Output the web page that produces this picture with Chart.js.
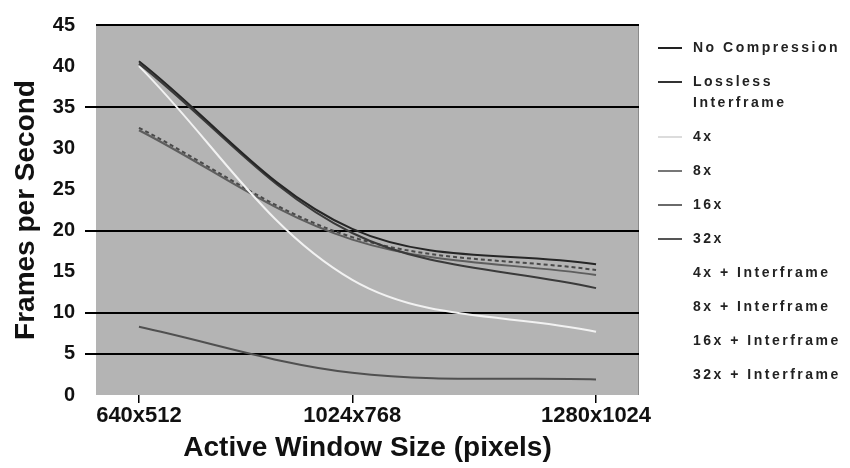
<!DOCTYPE html>
<html>
<head>
<meta charset="utf-8">
<script src="https://cdn.jsdelivr.net/npm/chart.js@4.4.1/dist/chart.umd.min.js"></script>
<style>
  body { margin: 0; background: #fff; }
  #wrap { position: relative; width: 850px; height: 468px; }
  #legend {
    position: absolute; left: 658px; top: 37px; width: 192px;
    font: bold 14px "Liberation Sans", Arial, sans-serif; color: #222;
    letter-spacing: 2.5px;
  }
  .item { display: flex; align-items: flex-start; line-height: 21px; margin-bottom: 13px; }
  .swatch { width: 24px; height: 2px; margin-top: 10px; margin-right: 11px; flex: none; }
  .label { width: 157px; }
</style>
</head>
<body>
<div id="wrap">
  <canvas id="chart" width="850" height="468"></canvas>
  <div id="legend"></div>
</div>
<script>
const categories = ["640x512", "1024x768", "1280x1024"];
const yTicks = [0, 5, 10, 15, 20, 25, 30, 35, 40, 45];
const ruledTicks = [35, 20, 10, 5];

const seriesNames = [
  "No Compression",
  "Lossless Interframe",
  "4x",
  "8x",
  "16x",
  "32x",
  "4x + Interframe",
  "8x + Interframe",
  "16x + Interframe",
  "32x + Interframe",
];
const noCompression = [40.6, 20.2, 15.9];
const losslessInterframe = [40.3, 19.7, 13.0];
const x4 = [40.0, 14.0, 7.7];
const x8 = [32.5, 19.2, 15.2];
const x16 = [32.2, 18.9, 14.6];
const x32 = [8.3, 2.7, 1.9];
const x4Interframe = [];
const x8Interframe = [];
const x16Interframe = [];
const x32Interframe = [];

// x axis is the window area in pixels
const xValues = categories.map((c) => {
  const [w, h] = c.split("x").map(Number);
  return w * h;
});
const span = xValues[xValues.length - 1] - xValues[0];

const seriesValues = [noCompression, losslessInterframe, x4, x8, x16, x32,
  x4Interframe, x8Interframe, x16Interframe, x32Interframe];
const colors = ["#262626", "#3a3a3a", "#f2f2f2", "#4a4a4a", "#5e5e5e", "#505050",
  "#ffffff", "#ffffff", "#ffffff", "#ffffff"];
const dashes = [[], [], [], [4, 3], [], [], [], [], [], []];

const datasets = seriesNames.map((name, i) => ({
  label: name,
  data: seriesValues[i].map((v, j) => ({ x: xValues[j], y: v })),
  borderColor: colors[i],
  borderWidth: 2,
  borderDash: dashes[i],
  pointRadius: 0,
  tension: 0.35,
  fill: false,
}));

const plotBg = {
  id: "plotBg",
  beforeDraw: (chart) => {
    const { ctx, chartArea: a } = chart;
    ctx.save();
    ctx.fillStyle = "#b4b4b4";
    ctx.fillRect(a.left, a.top, a.right - a.left, a.bottom - a.top);
    ctx.strokeStyle = "#8a8a8a";
    ctx.lineWidth = 1;
    ctx.beginPath();
    ctx.moveTo(a.right - 0.5, a.top);
    ctx.lineTo(a.right - 0.5, a.bottom);
    ctx.stroke();
    ctx.restore();
  },
};

const isRuled = (v) => v === 45 || ruledTicks.includes(v);

new Chart(document.querySelector("#chart"), {
  type: "line",
  data: { datasets },
  options: {
    responsive: false,
    animation: false,
    layout: { padding: { left: 0, right: 211, top: 25, bottom: 0 } },
    plugins: { legend: { display: false }, tooltip: { enabled: false } },
    scales: {
      x: {
        type: "linear",
        min: xValues[0] - span * 0.094,
        max: xValues[xValues.length - 1] + span * 0.094,
        afterBuildTicks: (s) => { s.ticks = xValues.map((v) => ({ value: v })); },
        afterFit: (s) => { s.height = 73; },
        border: { display: false },
        grid: { drawOnChartArea: false, tickLength: 8, color: "#000", lineWidth: 1.5 },
        ticks: {
          padding: 0,
          color: "#111",
          font: { family: "Liberation Sans", size: 22, weight: "bold" },
          callback: (v) => categories[xValues.indexOf(v)],
        },
        title: {
          display: true,
          text: "Active Window Size (pixels)",
          color: "#111",
          font: { family: "Liberation Sans", size: 28, weight: "bold" },
          padding: { top: 0, bottom: 3 },
        },
      },
      y: {
        min: 0,
        max: 45,
        afterBuildTicks: (s) => { s.ticks = yTicks.map((v) => ({ value: v })); },
        afterFit: (s) => { s.width = 96; },
        border: { display: false },
        grid: {
          tickLength: 11,
          lineWidth: 2,
          color: (c) => (isRuled(c.tick.value) ? "#000" : "rgba(0,0,0,0)"),
          tickColor: (c) => (ruledTicks.includes(c.tick.value) ? "#000" : "rgba(0,0,0,0)"),
        },
        ticks: {
          padding: 10,
          color: "#111",
          font: { family: "Liberation Sans", size: 20, weight: "bold" },
        },
        title: {
          display: true,
          text: "Frames per Second",
          color: "#111",
          font: { family: "Liberation Sans", size: 28, weight: "bold" },
          padding: { top: 9, bottom: 0 },
        },
      },
    },
  },
  plugins: [plotBg],
});

// legend
const legendSwatch = ["#222", "#333", "#dcdcdc", "#777", "#6a6a6a", "#555",
  "#fff", "#fff", "#fff", "#fff"];
const legend = document.querySelector("#legend");
seriesNames.forEach((name, i) => {
  const item = document.createElement("div");
  item.className = "item";
  const sw = document.createElement("div");
  sw.className = "swatch";
  sw.style.background = legendSwatch[i];
  const lab = document.createElement("div");
  lab.className = "label";
  lab.textContent = name;
  item.appendChild(sw);
  item.appendChild(lab);
  legend.appendChild(item);
});
</script>
</body>
</html>
